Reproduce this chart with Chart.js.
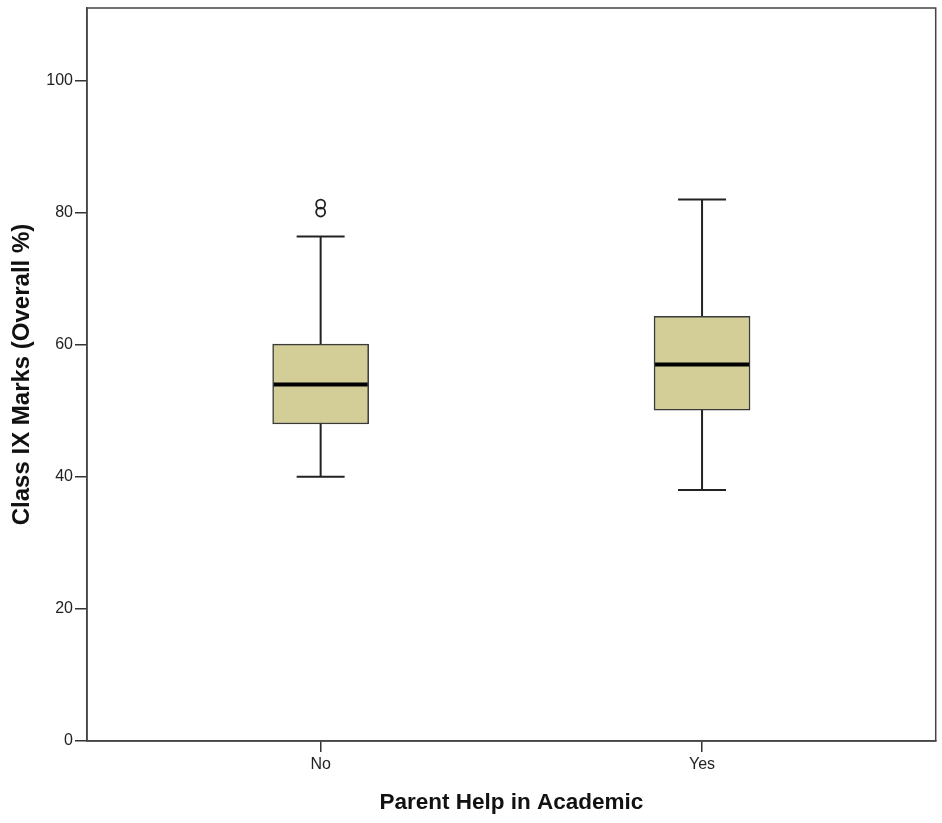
<!DOCTYPE html>
<html lang="en">
<head>
  <meta charset="UTF-8">
  <title>Class IX Marks by Parent Help</title>
  <style>
    body { margin: 0; background: #fff; }
    #wrap { width: 942px; height: 823px; }
  </style>
</head>
<body>
  <div id="wrap"><canvas id="chart"></canvas></div>

  <script src="https://cdn.jsdelivr.net/npm/chart.js"></script>
  <script>
    // five-number summaries per group
    const categories = ['No', 'Yes'];
    const whiskerLow = [40, 38];
    const q1 = [48, 50.1];
    const median = [54, 57];
    const q3 = [60.1, 64.3];
    const whiskerHigh = [76.4, 82];
    const outliers = [[80.1, 81.3], []];
    const yTicks = [0, 20, 40, 60, 80, 100];

    const boxFill = '#d3ce97';
    const ink = '#222';
    const font = '"Liberation Sans", Arial, sans-serif';

    // whiskers go under the boxes, medians on top
    const boxParts = {
      id: 'boxParts',
      beforeDatasetsDraw(chart) {
        const {ctx, scales: {x, y}} = chart;
        ctx.save();
        ctx.strokeStyle = ink;
        ctx.lineWidth = 2;
        categories.forEach((c, i) => {
          const cx = x.getPixelForValue(i);
          const lo = y.getPixelForValue(whiskerLow[i]);
          const hi = y.getPixelForValue(whiskerHigh[i]);
          ctx.beginPath();
          ctx.moveTo(cx, lo); ctx.lineTo(cx, hi);
          ctx.moveTo(cx - 24, lo); ctx.lineTo(cx + 24, lo);
          ctx.moveTo(cx - 24, hi); ctx.lineTo(cx + 24, hi);
          ctx.stroke();
        });
        ctx.restore();
      },
      afterDatasetsDraw(chart) {
        const {ctx, scales: {x, y}} = chart;
        ctx.save();
        ctx.strokeStyle = '#000';
        ctx.lineWidth = 4;
        categories.forEach((c, i) => {
          const cx = x.getPixelForValue(i);
          const my = y.getPixelForValue(median[i]);
          ctx.beginPath();
          ctx.moveTo(cx - 47, my); ctx.lineTo(cx + 47, my);
          ctx.stroke();
        });
        ctx.restore();
      },
      afterDraw(chart) {
        const {ctx, chartArea: a} = chart;
        ctx.save();
        ctx.strokeStyle = '#444';
        ctx.lineWidth = 1.5;
        ctx.strokeRect(a.left, a.top, a.right - a.left, a.bottom - a.top);
        ctx.restore();
      }
    };

    const outlierPoints = [];
    outliers.forEach((arr, i) => arr.forEach(v => outlierPoints.push({x: i, y: v})));

    new Chart(document.getElementById('chart'), {
      type: 'bar',
      data: {
        datasets: [{
          type: 'bar',
          data: categories.map((c, i) => ({x: i, y: [q1[i], q3[i]]})),
          backgroundColor: boxFill,
          borderColor: '#3a3a3a',
          borderWidth: 1.5,
          borderSkipped: false,
          barThickness: 96
        }, {
          type: 'scatter',
          data: outlierPoints,
          pointStyle: 'circle',
          pointRadius: 4.5,
          pointBackgroundColor: 'rgba(255,255,255,0)',
          pointBorderColor: ink,
          pointBorderWidth: 1.8
        }]
      },
      options: {
        responsive: true,
        maintainAspectRatio: false,
        animation: false,
        layout: { padding: { top: 8, right: 5, left: 0, bottom: 0 } },
        plugins: { legend: { display: false }, tooltip: { enabled: false } },
        scales: {
          x: {
            type: 'linear',
            offset: false,
            min: -0.6126,
            max: 1.6126,
            afterBuildTicks: s => { s.ticks = categories.map((c, i) => ({value: i})); },
            afterFit: s => { s.height = 82; s.paddingLeft = 0; s.paddingRight = 0; },
            ticks: {
              callback: v => categories[v],
              color: '#222',
              font: { family: font, size: 16 },
              padding: 3,
              maxRotation: 0
            },
            grid: { offset: false, drawOnChartArea: false, drawTicks: true, tickLength: 11, color: '#333', lineWidth: 1.5 },
            border: { color: '#444', width: 1.5 },
            title: {
              display: true,
              text: 'Parent Help in Academic',
              color: '#111',
              font: { family: font, size: 22.5, weight: 'bold' },
              padding: { top: 4, bottom: 6.5 }
            }
          },
          y: {
            min: 0,
            max: 111,
            afterBuildTicks: s => { s.ticks = yTicks.map(v => ({value: v})); },
            afterFit: s => { s.width = 87; s.paddingTop = 0; s.paddingBottom = 0; },
            ticks: {
              color: '#222',
              font: { family: font, size: 16 },
              padding: 2
            },
            grid: { drawOnChartArea: false, drawTicks: true, tickLength: 12, color: '#333', lineWidth: 1.5 },
            border: { color: '#444', width: 1.5 },
            title: {
              display: true,
              text: 'Class IX Marks (Overall %)',
              color: '#111',
              font: { family: font, size: 24, weight: 'bold' },
              padding: { top: 8, bottom: 4 }
            }
          }
        }
      },
      plugins: [boxParts]
    });
  </script>
</body>
</html>
